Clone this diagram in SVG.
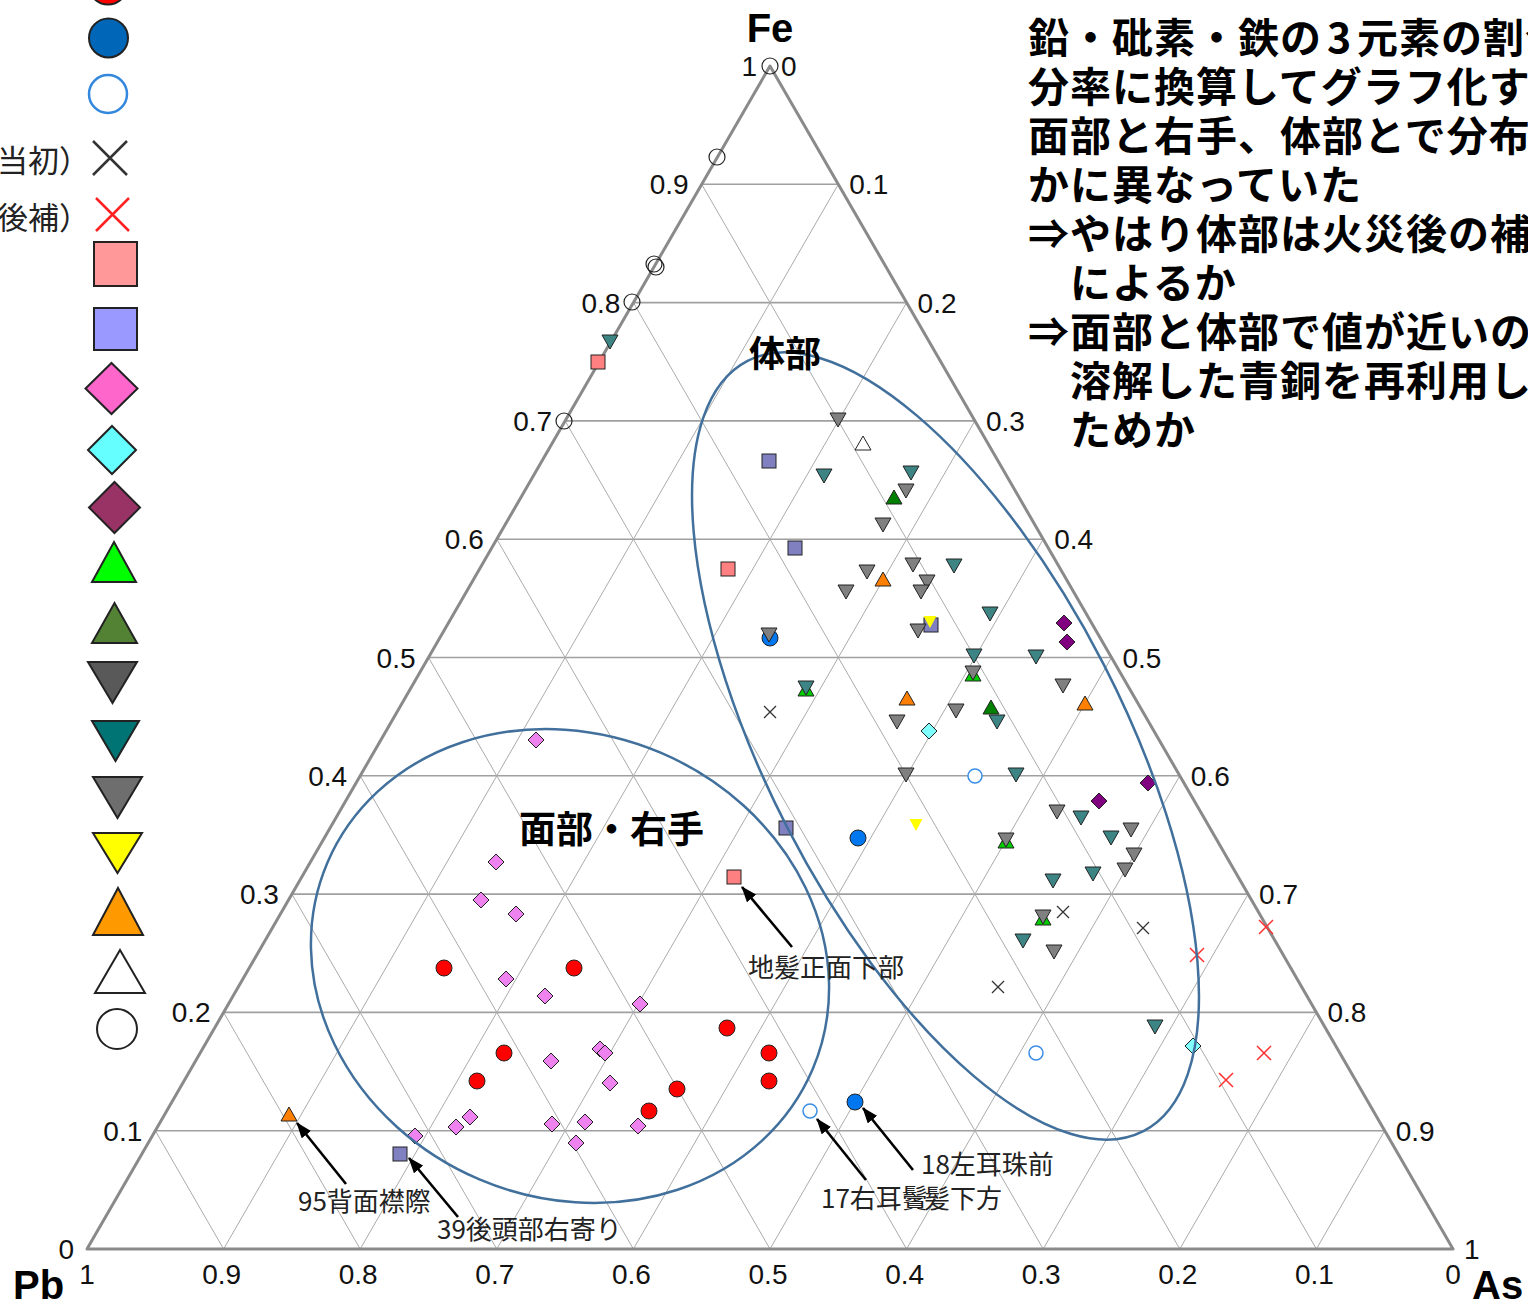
<svg xmlns="http://www.w3.org/2000/svg" xmlns:xlink="http://www.w3.org/1999/xlink" width="1528" height="1307" viewBox="0 0 1528 1307">
<style>
.gh{stroke:#a0a0a0;stroke-width:1.6;fill:none}
.gd{stroke:#ababab;stroke-width:1;fill:none}
.frame{stroke:#8a8a8a;stroke-width:3;fill:none;stroke-linejoin:round}
.tick{font-family:"Liberation Sans",Arial,sans-serif;font-size:28px;fill:#111}
.tl{text-anchor:end}
.tb{text-anchor:middle}
.axis{font-family:"Liberation Sans",Arial,sans-serif;font-weight:bold;font-size:40px;fill:#000}
.jb{font-family:"Noto Sans CJK JP","Noto Sans",sans-serif;font-weight:bold;fill:#000}
.note{font-family:"Noto Sans CJK JP","Noto Sans",sans-serif;font-size:26px;fill:#222}
.leg{font-family:"Noto Sans CJK JP","Noto Sans",sans-serif;font-size:31px;fill:#222;text-anchor:end}
.ell{fill:none;stroke:#41709c;stroke-width:2.5}
.lm{stroke:#222;stroke-width:2}
.mk{stroke:#222;stroke-width:1}
.gray{fill:#808080}.teal{fill:#3d8585}.dgreen{fill:#008000}.bgreen{fill:#00cc00}
.orange{fill:#ff8000}.white{fill:#fff}.yellow{fill:#ffff00}
.psq{fill:#8080c0}.rsq{fill:#ff8080}.pdia{fill:#800080}.cdia{fill:#80ffff}.vdia{fill:#ee82ee}
.red{fill:#ff0000}.blue{fill:#0077ee}
.oblue{fill:#fff;stroke:#3a8ee6;stroke-width:1.5}
.oblack{fill:none;stroke:#222;stroke-width:1.2}
.xk{stroke:#333;stroke-width:1.3;fill:none}
.xr{stroke:#ff3030;stroke-width:1.5;fill:none}
.arr{stroke:#000;stroke-width:2.6;fill:none}
</style>
<defs>
<path id="dt" d="M-8,-7 L8,-7 L0,7 Z"/>
<path id="ut" d="M0,-7 L8,7 L-8,7 Z"/>
<path id="sdt" d="M-6.5,-6 L6.5,-6 L0,6 Z"/>
<rect id="sq" x="-7" y="-7" width="14" height="14"/>
<path id="dia" d="M0,-8 L8,0 L0,8 L-8,0 Z"/>
<circle id="ci" r="8"/>
<circle id="oc" r="7"/>
<circle id="ocb" r="8"/>
<path id="xx" d="M-6,-6 L6,6 M-6,6 L6,-6"/>
<path id="xr" d="M-7,-7 L7,7 M-7,7 L7,-7"/>
<marker id="ah" viewBox="0 0 16 12" refX="15" refY="6" markerWidth="6.2" markerHeight="4.6" orient="auto" markerUnits="strokeWidth">
<path d="M0,0 L16,6 L0,12 Z" fill="#000"/>
</marker>
</defs>
<rect width="1528" height="1307" fill="#fff"/>

<g id="grid">
<path class="gh" d="M155.3,1130.7H1384.7M223.6,1012.4H1316.4M291.9,894.1H1248.1M360.2,775.8H1179.8M428.5,657.5H1111.5M496.8,539.2H1043.2M565.1,420.9H974.9M633.4,302.6H906.6M701.7,184.3H838.3"/>
<path class="gd" d="M155.3,1130.7L223.6,1249M223.6,1012.4L360.2,1249M291.9,894.1L496.8,1249M360.2,775.8L633.4,1249M428.5,657.5L770,1249M496.8,539.2L906.6,1249M565.1,420.9L1043.2,1249M633.4,302.6L1179.8,1249M701.7,184.3L1316.4,1249"/>
<path class="gd" d="M223.6,1249L838.3,184.3M360.2,1249L906.6,302.6M496.8,1249L974.9,420.9M633.4,1249L1043.2,539.2M770,1249L1111.5,657.5M906.6,1249L1179.8,775.8M1043.2,1249L1248.1,894.1M1179.8,1249L1316.4,1012.4M1316.4,1249L1384.7,1130.7"/>
<path class="frame" d="M87,1249L770,66L1453,1249Z"/>
</g>

<g id="ticks" class="tick">
<text class="tl" x="74" y="1259">0</text>
<text class="tl" x="142.3" y="1140.7">0.1</text>
<text class="tl" x="210.6" y="1022.4">0.2</text>
<text class="tl" x="278.9" y="904.1">0.3</text>
<text class="tl" x="347.2" y="785.8">0.4</text>
<text class="tl" x="415.5" y="667.5">0.5</text>
<text class="tl" x="483.8" y="549.2">0.6</text>
<text class="tl" x="552.1" y="430.9">0.7</text>
<text class="tl" x="620.4" y="312.6">0.8</text>
<text class="tl" x="688.7" y="194.3">0.9</text>
<text class="tl" x="757" y="76">1</text>
<text x="781" y="76">0</text>
<text x="849.3" y="194.3">0.1</text>
<text x="917.6" y="312.6">0.2</text>
<text x="985.9" y="430.9">0.3</text>
<text x="1054.2" y="549.2">0.4</text>
<text x="1122.5" y="667.5">0.5</text>
<text x="1190.8" y="785.8">0.6</text>
<text x="1259.1" y="904.1">0.7</text>
<text x="1327.4" y="1022.4">0.8</text>
<text x="1395.7" y="1140.7">0.9</text>
<text x="1464" y="1259">1</text>
<text class="tb" x="87" y="1284">1</text>
<text class="tb" x="221.6" y="1284">0.9</text>
<text class="tb" x="358.2" y="1284">0.8</text>
<text class="tb" x="494.8" y="1284">0.7</text>
<text class="tb" x="631.4" y="1284">0.6</text>
<text class="tb" x="768" y="1284">0.5</text>
<text class="tb" x="904.6" y="1284">0.4</text>
<text class="tb" x="1041.2" y="1284">0.3</text>
<text class="tb" x="1177.8" y="1284">0.2</text>
<text class="tb" x="1314.4" y="1284">0.1</text>
<text class="tb" x="1453" y="1284">0</text>
</g>
<g id="axis-labels" class="axis">
<text x="770" y="42" text-anchor="middle">Fe</text>
<text x="13" y="1299">Pb</text>
<text x="1472" y="1299">As</text>
</g>

<g id="legend">
<circle class="lm" cx="108" cy="-15" r="19.5" fill="#ff0000"/>
<circle class="lm" cx="108.5" cy="38" r="19.5" fill="#0066b8"/>
<circle cx="108" cy="94" r="19" fill="#fff" stroke="#3388dd" stroke-width="2.5"/>
<text class="leg" x="90" y="172">当初）</text>
<path d="M93,141L127,175M93,175L127,141" stroke="#333" stroke-width="2.5"/>
<text class="leg" x="90" y="229">後補）</text>
<path d="M96,198L129,231M96,231L129,198" stroke="#ff2222" stroke-width="2.5"/>
<rect class="lm" x="94" y="242" width="43" height="44" fill="#ff9999"/>
<rect class="lm" x="94" y="308" width="43" height="42" fill="#9999ff"/>
<path class="lm" d="M111.5,363L137.5,388.5L111.5,414L85.5,388.5Z" fill="#ff66cc"/>
<path class="lm" d="M112,426L136,450L112,474L88,450Z" fill="#66ffff"/>
<path class="lm" d="M114.5,482L140,507.5L114.5,533L89,507.5Z" fill="#993366"/>
<path class="lm" d="M114,542L136,582L92,582Z" fill="#00ff00"/>
<path class="lm" d="M114.5,603L137,643L92,643Z" fill="#548235"/>
<path class="lm" d="M88,662L137,662L112.5,703Z" fill="#595959"/>
<path class="lm" d="M92,721L139,721L115.5,761Z" fill="#007474"/>
<path class="lm" d="M93,777L142,777L117.5,818Z" fill="#6e6e6e"/>
<path class="lm" d="M93,833L142,833L117.5,873Z" fill="#ffff00"/>
<path class="lm" d="M118,888L143,935L93,935Z" fill="#ff9900"/>
<path class="lm" d="M120,950L145,993L95,993Z" fill="#fff"/>
<circle class="lm" cx="117" cy="1029" r="20" fill="#fff"/>
</g>

<g id="data">
<g class="mk">
<use href="#ut" class="bgreen" x="806" y="689"/>
<use href="#ut" class="bgreen" x="973" y="674"/>
<use href="#ut" class="bgreen" x="1006" y="841"/>
<use href="#ut" class="bgreen" x="1043" y="918"/>
<use href="#ci" class="blue" x="770" y="638"/>
<use href="#sq" class="psq" x="931" y="625"/>
<use href="#sq" class="psq" x="769" y="461"/>
<use href="#sq" class="psq" x="795" y="548"/>
<use href="#sq" class="psq" x="786" y="828"/>
<use href="#sq" class="psq" x="400" y="1154"/>
<use href="#sq" class="rsq" x="598" y="362"/>
<use href="#sq" class="rsq" x="728" y="569"/>
<use href="#sq" class="rsq" x="734" y="877"/>
<use href="#dt" class="gray" x="838" y="420"/>
<use href="#dt" class="gray" x="906" y="491"/>
<use href="#dt" class="gray" x="883" y="525"/>
<use href="#dt" class="gray" x="867" y="572"/>
<use href="#dt" class="gray" x="913" y="565"/>
<use href="#dt" class="gray" x="927" y="582"/>
<use href="#dt" class="gray" x="921" y="592"/>
<use href="#dt" class="gray" x="846" y="592"/>
<use href="#dt" class="gray" x="918" y="631"/>
<use href="#dt" class="gray" x="769" y="635"/>
<use href="#dt" class="gray" x="973" y="673"/>
<use href="#dt" class="gray" x="956" y="711"/>
<use href="#dt" class="gray" x="897" y="722"/>
<use href="#dt" class="gray" x="1063" y="686"/>
<use href="#dt" class="gray" x="906" y="775"/>
<use href="#dt" class="gray" x="1057" y="812"/>
<use href="#dt" class="gray" x="1131" y="830"/>
<use href="#dt" class="gray" x="1006" y="840"/>
<use href="#dt" class="gray" x="1134" y="855"/>
<use href="#dt" class="gray" x="1125" y="870"/>
<use href="#dt" class="gray" x="1043" y="917"/>
<use href="#dt" class="gray" x="1054" y="952"/>
<use href="#dt" class="teal" x="610" y="342"/>
<use href="#dt" class="teal" x="824" y="476"/>
<use href="#dt" class="teal" x="911" y="473"/>
<use href="#dt" class="teal" x="954" y="566"/>
<use href="#dt" class="teal" x="974" y="656"/>
<use href="#dt" class="teal" x="806" y="688"/>
<use href="#dt" class="teal" x="990" y="614"/>
<use href="#dt" class="teal" x="1036" y="657"/>
<use href="#dt" class="teal" x="997" y="722"/>
<use href="#dt" class="teal" x="1016" y="775"/>
<use href="#dt" class="teal" x="1081" y="818"/>
<use href="#dt" class="teal" x="1111" y="838"/>
<use href="#dt" class="teal" x="1093" y="874"/>
<use href="#dt" class="teal" x="1053" y="881"/>
<use href="#dt" class="teal" x="1023" y="941"/>
<use href="#dt" class="teal" x="1155" y="1027"/>
<use href="#ut" class="dgreen" x="894" y="497"/>
<use href="#ut" class="dgreen" x="991" y="707"/>
<use href="#ut" class="orange" x="883" y="579"/>
<use href="#ut" class="orange" x="907" y="698"/>
<use href="#ut" class="orange" x="1085" y="703"/>
<use href="#ut" class="orange" x="289" y="1114"/>
<use href="#ut" class="white" x="863" y="443"/>
<use href="#sdt" class="yellow" x="930" y="622" style="stroke:none"/>
<use href="#sdt" class="yellow" x="916" y="825" style="stroke:none"/>
<use href="#dia" class="pdia" x="1064" y="623"/>
<use href="#dia" class="pdia" x="1067" y="642"/>
<use href="#dia" class="pdia" x="1148" y="783"/>
<use href="#dia" class="pdia" x="1099" y="801"/>
<use href="#dia" class="cdia" x="929" y="731"/>
<use href="#dia" class="cdia" x="1193" y="1046"/>
<use href="#dia" class="vdia" x="536" y="740"/>
<use href="#dia" class="vdia" x="496" y="862"/>
<use href="#dia" class="vdia" x="481" y="900"/>
<use href="#dia" class="vdia" x="516" y="914"/>
<use href="#dia" class="vdia" x="506" y="979"/>
<use href="#dia" class="vdia" x="545" y="996"/>
<use href="#dia" class="vdia" x="640" y="1004"/>
<use href="#dia" class="vdia" x="600" y="1049"/>
<use href="#dia" class="vdia" x="605" y="1053"/>
<use href="#dia" class="vdia" x="551" y="1061"/>
<use href="#dia" class="vdia" x="610" y="1083"/>
<use href="#dia" class="vdia" x="470" y="1117"/>
<use href="#dia" class="vdia" x="456" y="1127"/>
<use href="#dia" class="vdia" x="415" y="1136"/>
<use href="#dia" class="vdia" x="552" y="1124"/>
<use href="#dia" class="vdia" x="585" y="1122"/>
<use href="#dia" class="vdia" x="638" y="1126"/>
<use href="#dia" class="vdia" x="576" y="1143"/>
<use href="#ci" class="red" x="444" y="968"/>
<use href="#ci" class="red" x="574" y="968"/>
<use href="#ci" class="red" x="727" y="1028"/>
<use href="#ci" class="red" x="504" y="1053"/>
<use href="#ci" class="red" x="769" y="1053"/>
<use href="#ci" class="red" x="477" y="1081"/>
<use href="#ci" class="red" x="677" y="1089"/>
<use href="#ci" class="red" x="769" y="1081"/>
<use href="#ci" class="red" x="649" y="1111"/>
<use href="#ci" class="blue" x="858" y="838"/>
<use href="#ci" class="blue" x="855" y="1102"/>
</g>
<use href="#oc" class="oblue" x="975" y="776"/>
<use href="#oc" class="oblue" x="1036" y="1053"/>
<use href="#oc" class="oblue" x="810" y="1111"/>
<use href="#ocb" class="oblack" x="770" y="66"/>
<use href="#ocb" class="oblack" x="717" y="157"/>
<use href="#ocb" class="oblack" x="654" y="264"/>
<use href="#ocb" class="oblack" x="656" y="267"/>
<use href="#ocb" class="oblack" x="632" y="302"/>
<use href="#ocb" class="oblack" x="564" y="421"/>
<use href="#xx" class="xk" x="770" y="712"/>
<use href="#xx" class="xk" x="1063" y="912"/>
<use href="#xx" class="xk" x="1143" y="928"/>
<use href="#xx" class="xk" x="998" y="987"/>
<use href="#xr" class="xr" x="1197" y="955"/>
<use href="#xr" class="xr" x="1266" y="927"/>
<use href="#xr" class="xr" x="1264" y="1053"/>
<use href="#xr" class="xr" x="1226" y="1080"/>
</g>

<g id="groups">
<ellipse class="ell" cx="0" cy="0" rx="263.7" ry="231.8" transform="translate(570,966) rotate(23)"/>
<ellipse class="ell" cx="0" cy="0" rx="433" ry="178" transform="translate(945.5,746) rotate(62.8)"/>
<text class="jb" x="749" y="367" font-size="36">体部</text>
<text class="jb" x="519" y="843" font-size="37">面部・右手</text>
</g>

<g id="connectors">
<path class="arr" d="M792,947L742,887" marker-end="url(#ah)"/>
<path class="arr" d="M913,1170L863,1108" marker-end="url(#ah)"/>
<path class="arr" d="M866,1180L817,1119" marker-end="url(#ah)"/>
<path class="arr" d="M346,1184L297,1123" marker-end="url(#ah)"/>
<path class="arr" d="M458,1217L409,1158" marker-end="url(#ah)"/>
</g>

<g id="annotations" class="note">
<text x="748" y="977">地髪正面下部</text>
<text x="921" y="1174">18左耳珠前</text>
<text x="821" y="1208">17右耳鬢<tspan dx="-4">髪下方</tspan></text>
<text x="298" y="1211">95背面襟際</text>
<text x="437" y="1239">39後頭部右寄り</text>
</g>

<g id="notes" class="jb" font-size="41" letter-spacing="1">
<text x="1028" y="53">鉛・砒素・鉄の<tspan x="1327">3</tspan><tspan x="1357">元素の割合</tspan></text>
<text x="1028" y="102">分率に換算してグラフ化す</text>
<text x="1028" y="151">面部と右手、体部とで分布</text>
<text x="1028" y="200">かに異なっていた</text>
<text x="1028" y="249">⇒やはり体部は火災後の補</text>
<text x="1070" y="298">によるか</text>
<text x="1028" y="347">⇒面部と体部で値が近いの</text>
<text x="1070" y="396">溶解した青銅を再利用し</text>
<text x="1070" y="445">ためか</text>
</g>
</svg>
